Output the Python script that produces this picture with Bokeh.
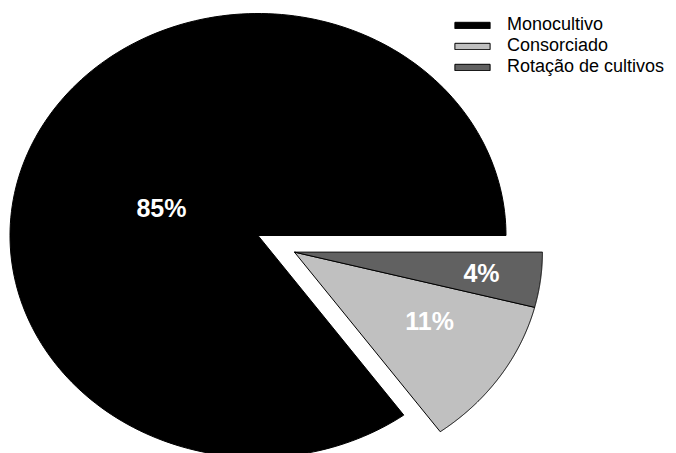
import numpy as np
from bokeh.plotting import figure
from bokeh.models import Range1d, ColumnDataSource, Legend, LegendItem
from bokeh.core.properties import value
from bokeh.embed import file_html
from bokeh.resources import INLINE

# ---- data ----
categories = ["Monocultivo", "Consorciado", "Rotação de cultivos"]
percentages = [85, 11, 4]
labels = ["85%", "11%", "4%"]
exploded = [False, True, True]

# ---- styling ----
colors = ["#000000", "#c0c0c0", "#616161"]
explode_dist = 0.165
# label anchor (angle in degrees, radius as fraction of pie radius)
label_anchor = [(162.6, 0.408), (-29.7, 0.627), (-7.15, 0.76)]

# pixel geometry of the elliptical pie
W, H = 676, 453
cx_px, cy_px = 257.5, 235.0
rx_px, ry_px = 248.0, 222.0

p = figure(width=W, height=H,
           x_range=Range1d(-cx_px / rx_px, (W - cx_px) / rx_px),
           y_range=Range1d(-(H - cy_px) / ry_px, cy_px / ry_px),
           output_backend="svg", toolbar_location=None, min_border=0)
p.axis.visible = False
p.grid.visible = False
p.outline_line_color = None
p.background_fill_color = "white"
p.border_fill_color = "white"

total = float(sum(percentages))
bounds = np.concatenate([[0.0], np.cumsum(percentages) / total * 2 * np.pi])

# common explode offset along bisector of the exploded group
ex_idx = [i for i, e in enumerate(exploded) if e]
ex_mid = (bounds[ex_idx[0]] + bounds[ex_idx[-1] + 1]) / 2
ex_dx, ex_dy = explode_dist * np.cos(ex_mid), explode_dist * np.sin(ex_mid)

xs, ys, centers = [], [], []
for i, v in enumerate(percentages):
    a0, a1 = bounds[i], bounds[i + 1]
    cx, cy = (ex_dx, ex_dy) if exploded[i] else (0.0, 0.0)
    centers.append((cx, cy))
    t = np.linspace(a0, a1, 200)
    xs.append([cx] + list(cx + np.cos(t)))
    ys.append([cy] + list(cy + np.sin(t)))

renderers = []
for i in range(len(percentages)):
    src = ColumnDataSource(dict(xs=[xs[i]], ys=[ys[i]]))
    r = p.patches("xs", "ys", source=src, fill_color=colors[i],
                  line_color="black", line_width=1)
    renderers.append(r)

lx, ly = [], []
for i, (ang, rad) in enumerate(label_anchor):
    cx, cy = centers[i]
    lx.append(cx + rad * np.cos(np.deg2rad(ang)))
    ly.append(cy + rad * np.sin(np.deg2rad(ang)))
p.text(x=lx, y=ly, text=labels, text_color="white", text_font=value("Liberation Sans"),
       text_font_style="bold", text_font_size="25px", text_align="center",
       text_baseline="middle")

legend = Legend(items=[LegendItem(label=categories[i], renderers=[renderers[i]])
                       for i in range(len(categories))],
                location=(450, 376), glyph_width=44, glyph_height=8,
                label_text_font="Liberation Sans", label_text_font_size="18px",
                label_text_color="black",
                label_standoff=13, spacing=-2, padding=0, margin=0,
                label_height=20, border_line_color=None,
                background_fill_alpha=0)
p.add_layout(legend)

open("out.html", "w").write(file_html(p, INLINE))
